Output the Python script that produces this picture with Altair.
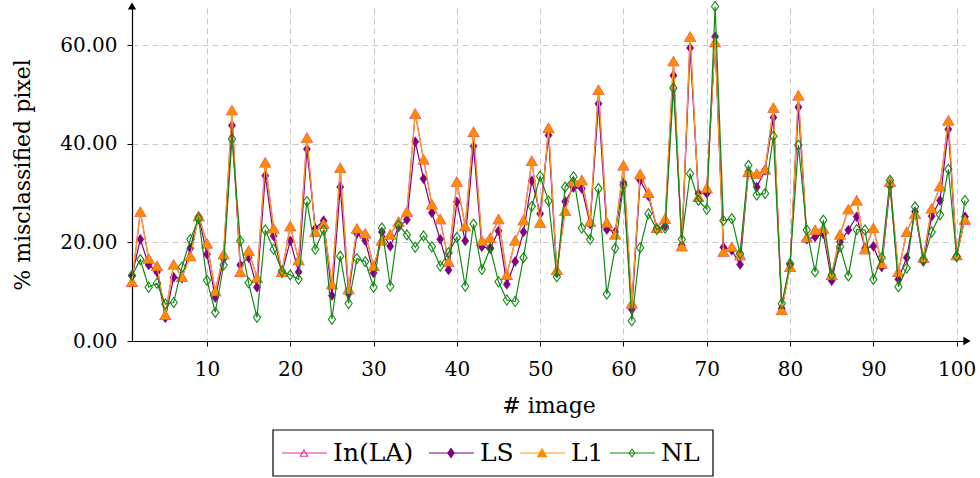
import altair as alt
import pandas as pd

# ---------------- data ----------------
image_ids = list(range(1, 102))
series_names = ["In(LA)", "LS", "L1", "NL"]

in_la = [12.0, 26.2, 16.7, 15.2, 5.3, 15.5, 13.0, 17.2, 25.3, 19.8,
         10.1, 17.6, 46.8, 14.0, 18.3, 12.8, 36.2, 22.8, 14.0, 23.3,
         16.4, 41.2, 22.1, 23.8, 11.5, 35.1, 10.5, 22.8, 21.8, 15.2,
         20.4, 21.6, 24.2, 26.2, 46.1, 36.8, 27.7, 24.7, 16.1, 32.3,
         23.3, 42.4, 20.3, 20.9, 24.7, 13.4, 20.4, 24.5, 36.5, 24.0,
         43.2, 14.4, 26.4, 32.3, 32.6, 24.2, 50.9, 24.0, 21.6, 35.6,
         7.6, 33.8, 30.0, 22.9, 24.8, 56.7, 19.2, 61.7, 29.2, 31.0,
         60.6, 18.1, 19.1, 17.4, 34.3, 33.9, 34.8, 47.3, 6.3, 15.0,
         49.8, 21.0, 22.5, 22.8, 13.4, 21.6, 26.7, 28.5, 18.6, 22.9,
         15.7, 32.3, 14.0, 22.1, 25.8, 16.9, 26.9, 31.4, 44.7, 17.4,
         24.6]

ls = [13.2, 20.6, 15.4, 14.0, 4.7, 12.9, 12.7, 18.8, 25.2, 17.6,
      8.8, 16.7, 43.7, 15.4, 16.9, 10.9, 33.5, 21.3, 13.8, 20.3,
      14.0, 38.9, 22.8, 24.4, 9.2, 31.2, 9.6, 21.8, 20.3, 13.8,
      22.1, 19.2, 23.1, 24.6, 40.4, 32.9, 26.0, 20.6, 14.4, 28.2,
      20.3, 39.5, 19.1, 18.8, 22.3, 11.5, 16.1, 22.1, 32.5, 25.8,
      41.7, 13.8, 28.3, 31.1, 30.9, 23.7, 48.1, 22.6, 22.1, 32.1,
      6.4, 32.6, 29.4, 22.9, 23.3, 53.8, 19.4, 59.4, 29.9, 29.9,
      61.7, 19.0, 18.4, 15.5, 34.3, 31.2, 34.6, 45.3, 6.6, 15.4,
      47.4, 20.6, 21.1, 21.7, 12.2, 20.1, 22.5, 25.2, 18.8, 19.2,
      15.0, 31.4, 12.5, 16.9, 26.2, 16.1, 25.3, 28.5, 42.9, 17.2,
      25.2]

l1 = [12.0, 26.2, 16.7, 15.2, 5.3, 15.5, 13.0, 17.2, 25.3, 19.8,
      10.1, 17.6, 46.8, 14.0, 18.3, 12.8, 36.2, 22.8, 14.0, 23.3,
      16.4, 41.2, 22.1, 23.8, 11.5, 35.1, 10.5, 22.8, 21.8, 15.2,
      20.4, 21.6, 24.2, 26.2, 46.1, 36.8, 27.7, 24.7, 16.1, 32.3,
      23.3, 42.4, 20.3, 20.9, 24.7, 13.4, 20.4, 24.5, 36.5, 24.0,
      43.2, 14.4, 26.4, 32.3, 32.6, 24.2, 50.9, 24.0, 21.6, 35.6,
      7.6, 33.8, 30.0, 22.9, 24.8, 56.7, 19.2, 61.7, 29.2, 31.0,
      60.6, 18.1, 19.1, 17.4, 34.3, 33.9, 34.8, 47.3, 6.3, 15.0,
      49.8, 21.0, 22.5, 22.8, 13.4, 21.6, 26.7, 28.5, 18.6, 22.9,
      15.7, 32.3, 14.0, 22.1, 25.8, 16.9, 26.9, 31.4, 44.7, 17.4,
      24.6]

nl = [13.3, 16.5, 10.9, 11.7, 7.5, 7.8, 15.0, 20.6, 24.8, 12.3,
      5.8, 15.4, 41.0, 20.3, 11.8, 4.8, 22.5, 18.6, 14.2, 13.4,
      12.5, 28.3, 18.6, 22.5, 4.4, 17.2, 7.6, 16.7, 16.1, 10.9,
      22.9, 11.1, 23.5, 21.5, 19.0, 21.3, 19.1, 15.2, 17.9, 21.0,
      11.1, 23.7, 14.5, 18.8, 12.0, 8.3, 8.0, 16.9, 27.3, 33.4,
      28.4, 13.0, 31.2, 33.3, 22.9, 20.6, 30.9, 9.5, 18.8, 31.6,
      4.1, 18.9, 25.8, 22.6, 22.9, 51.3, 20.6, 33.9, 28.5, 26.7,
      67.8, 24.4, 24.8, 17.7, 35.6, 29.6, 29.9, 41.5, 7.6, 15.7,
      39.7, 22.5, 14.0, 24.5, 13.4, 19.1, 13.2, 22.6, 22.5, 12.5,
      16.9, 32.6, 11.0, 14.8, 27.2, 16.4, 22.1, 25.6, 34.8, 17.1,
      28.5]

x_ticks = [10, 20, 30, 40, 50, 60, 70, 80, 90, 100]
y_ticks = [0, 20, 40, 60]

# ---------------- styling ----------------
W, H = 833, 333
FONT = "DejaVu Serif"
FS_LABEL = 20
FS_TITLE = 22
FS_LEG = 25

colors = {"In(LA)": "#e0309a", "LS": "#800080", "L1": "#ff8c00", "NL": "#128a12"}
line_colors = {"In(LA)": "#e0309a", "LS": "#800080", "L1": "#ff9a20", "NL": "#128a12"}
DIAMOND = "M-0.72,0L0,-1L0.72,0L0,1Z"
shapes = {"In(LA)": "triangle-up", "LS": DIAMOND, "L1": "triangle-up", "NL": DIAMOND}
filled = {"In(LA)": False, "LS": True, "L1": True, "NL": False}
sizes = {"In(LA)": 110, "LS": 100, "L1": 110, "NL": 100}

values = {"In(LA)": in_la, "LS": ls, "L1": l1, "NL": nl}

x_scale = alt.Scale(domain=[1, 101], nice=False, zero=False)
y_scale = alt.Scale(domain=[0, 67.5], nice=False, zero=False)

X = alt.X("image:Q", scale=x_scale,
          axis=alt.Axis(values=x_ticks, title="# image", grid=True,
                        titleX=W / 2, titleY=64, titleBaseline="middle",
                        titleAlign="center"))
Y = alt.Y("value:Q", scale=y_scale,
          axis=alt.Axis(values=y_ticks, format=".2f", title="% misclassified pixel",
                        grid=True, titleX=-110, titleY=H / 2, titleAngle=270,
                        titleBaseline="middle", titleAlign="center"))

layers = []
for name in series_names:
    d = pd.DataFrame({"image": image_ids, "value": values[name], "series": name})
    base = alt.Chart(d)
    layers.append(base.mark_line(color=line_colors[name], strokeWidth=1.2).encode(x=X, y=Y))
    if filled[name]:
        pt = base.mark_point(shape=shapes[name], filled=True, fill=colors[name],
                             stroke=colors[name], strokeWidth=0.5, size=sizes[name], opacity=1)
    else:
        pt = base.mark_point(shape=shapes[name], filled=False, stroke=colors[name],
                             strokeWidth=1.1, size=sizes[name], opacity=1)
    layers.append(pt.encode(x=X, y=Y))

one = pd.DataFrame({"a": [0]})
# axis arrow heads
arrows = [
    alt.Chart(one).mark_point(shape="triangle-right", filled=True, color="black",
                              size=70, opacity=1).encode(x=alt.value(W + 2), y=alt.value(H)),
    alt.Chart(one).mark_point(shape="triangle-up", filled=True, color="black",
                              size=70, opacity=1).encode(x=alt.value(0), y=alt.value(-2)),
]

# legend (manual)
LY = 445
legend_layers = [
    alt.Chart(one).mark_rect(fill="white", stroke="black", strokeWidth=1.2).encode(
        x=alt.value(141), x2=alt.value(581), y=alt.value(422), y2=alt.value(468))
]
leg_x = {"In(LA)": 150, "LS": 297, "L1": 388, "NL": 478}
for name in series_names:
    x0 = leg_x[name]
    legend_layers.append(alt.Chart(one).mark_rule(color=line_colors[name], strokeWidth=1.2).encode(
        x=alt.value(x0), x2=alt.value(x0 + 45), y=alt.value(LY)))
    if filled[name]:
        lp = alt.Chart(one).mark_point(shape=shapes[name], filled=True, fill=colors[name],
                                       stroke=colors[name], size=55, opacity=1)
    else:
        lp = alt.Chart(one).mark_point(shape=shapes[name], filled=False, stroke=colors[name],
                                       strokeWidth=1.1, size=55, opacity=1)
    legend_layers.append(lp.encode(x=alt.value(x0 + 22), y=alt.value(LY)))
    legend_layers.append(alt.Chart(one).mark_text(text=name, font=FONT, fontSize=FS_LEG,
                                                  align="left", baseline="middle",
                                                  color="black").encode(
        x=alt.value(x0 + 51), y=alt.value(LY)))

chart = alt.layer(*layers, *arrows, *legend_layers).properties(
    width=W, height=H,
    autosize=alt.AutoSizeParams(type="none"),
    padding={"left": 132, "top": 8, "right": 15, "bottom": 137},
).configure_view(stroke=None).configure_axis(
    labelFont=FONT, titleFont=FONT, labelFontSize=FS_LABEL, titleFontSize=FS_TITLE,
    titleFontWeight="normal", labelColor="black", titleColor="black",
    domainColor="black", domainWidth=1.2, tickColor="black", tickSize=5,
    gridColor="#c8c8c8", gridDash=[6, 4], gridWidth=1,
).configure_axisX(labelPadding=13, labelBaseline="top").configure_axisY(labelPadding=10)

chart.save("out.html", embed_options={"renderer": "svg", "actions": False})
